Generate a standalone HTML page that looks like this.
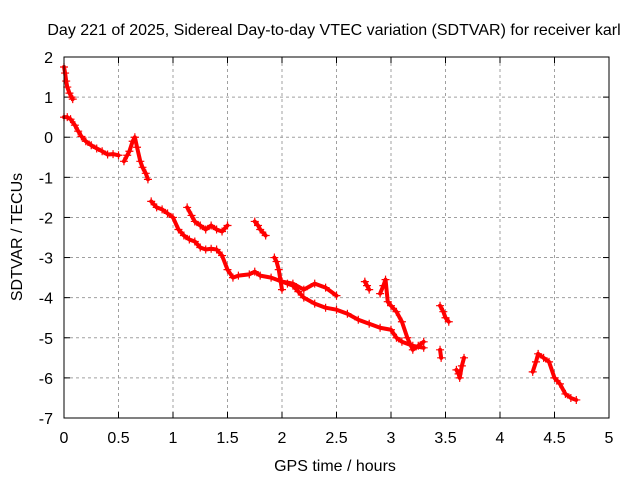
<!DOCTYPE html>
<html><head><meta charset="utf-8"><style>
html,body{margin:0;padding:0;background:#fff}
svg{display:block;font-family:"Liberation Sans",sans-serif}
</style></head><body>
<svg id="chart" width="640" height="480" xmlns="http://www.w3.org/2000/svg">
<text x="334" y="35" font-size="16" text-anchor="middle">Day 221 of 2025, Sidereal Day-to-day VTEC variation (SDTVAR) for receiver karl</text>
<g id="grid"></g>
<g id="ticks"></g>
<g id="marks"></g>
<rect x="64" y="57" width="545" height="361" fill="none" stroke="#000" stroke-width="1"/>
<text x="335" y="471" font-size="16" text-anchor="middle">GPS time / hours</text>
<text transform="translate(22,237) rotate(-90)" font-size="16" text-anchor="middle">SDTVAR / TECUs</text>
</svg>
<script>
const xTicks=[0,0.5,1,1.5,2,2.5,3,3.5,4,4.5,5];
const xTickLabels=["0","0.5","1","1.5","2","2.5","3","3.5","4","4.5","5"];
const yTicks=[2,1,0,-1,-2,-3,-4,-5,-6,-7];
const yTickLabels=["2","1","0","-1","-2","-3","-4","-5","-6","-7"];
const seg1=[[0,1.75],[0.01,1.6],[0.02,1.4],[0.03,1.25],[0.05,1.1],[0.07,1.0],[0.08,0.95]];
const seg2=[[0,0.5],[0.03,0.5],[0.06,0.45],[0.1,0.3],[0.13,0.15],[0.16,0.02],[0.2,-0.1],[0.25,-0.2],[0.3,-0.28],[0.35,-0.35],[0.4,-0.43],[0.45,-0.42],[0.5,-0.45]];
const seg3=[[0.55,-0.6],[0.58,-0.45],[0.6,-0.35],[0.63,-0.1],[0.65,0],[0.67,-0.25],[0.7,-0.6],[0.72,-0.75],[0.75,-0.9],[0.77,-1.05]];
const seg4=[[0.8,-1.6],[0.85,-1.75],[0.9,-1.8],[0.95,-1.9],[1.0,-2.0],[1.05,-2.3],[1.1,-2.45],[1.15,-2.55],[1.2,-2.6],[1.25,-2.75],[1.3,-2.8],[1.35,-2.78],[1.4,-2.8],[1.45,-2.95],[1.5,-3.3],[1.55,-3.5],[1.6,-3.45],[1.7,-3.42],[1.75,-3.35],[1.8,-3.45],[1.9,-3.5],[2.0,-3.6],[2.05,-3.65],[2.1,-3.7],[2.15,-3.85],[2.2,-4.0],[2.3,-4.15],[2.4,-4.25],[2.5,-4.3],[2.6,-4.4],[2.7,-4.55],[2.8,-4.65],[2.9,-4.75],[3.0,-4.8],[3.05,-5.0],[3.1,-5.1],[3.2,-5.2],[3.3,-5.25]];
const seg5=[[1.13,-1.75],[1.17,-1.95],[1.2,-2.1],[1.25,-2.2],[1.3,-2.3],[1.35,-2.2],[1.4,-2.3],[1.45,-2.35],[1.5,-2.2]];
const seg6=[[1.75,-2.1],[1.78,-2.2],[1.8,-2.3],[1.85,-2.45]];
const seg7=[[1.93,-3.0],[1.95,-3.1],[1.97,-3.3],[2.0,-3.8]];
const seg8=[[2.0,-3.6],[2.1,-3.65],[2.2,-3.8],[2.3,-3.65],[2.4,-3.75],[2.5,-3.95]];
const seg9=[[2.76,-3.6],[2.78,-3.7],[2.8,-3.8]];
const seg10=[[2.9,-3.9],[2.93,-3.7],[2.95,-3.55],[2.97,-4.1],[3.0,-4.2],[3.05,-4.35],[3.1,-4.6],[3.15,-5.0],[3.2,-5.3],[3.25,-5.2],[3.3,-5.1]];
const seg11=[[3.45,-5.3],[3.46,-5.5]];
const seg12=[[3.45,-4.2],[3.48,-4.35],[3.5,-4.5],[3.53,-4.6]];
const seg13=[[3.6,-5.8],[3.62,-5.9],[3.63,-6.0],[3.65,-5.7],[3.67,-5.5]];
const seg14=[[4.3,-5.85],[4.33,-5.6],[4.35,-5.4],[4.4,-5.5],[4.45,-5.6],[4.5,-6.0],[4.55,-6.15],[4.6,-6.4],[4.65,-6.5],[4.7,-6.55]];
const segments=[seg1,seg2,seg3,seg4,seg5,seg6,seg7,seg8,seg9,seg10,seg11,seg12,seg13,seg14];

const X0=64,X1=609,Y0=57,Y1=418;
function xs(v){return X0+(v-0)/(5-0)*(X1-X0);}
function ys(v){return Y0+(2-v)/(2-(-7))*(Y1-Y0);}
const NS="http://www.w3.org/2000/svg";
const grid=document.getElementById('grid'),ticks=document.getElementById('ticks'),marks=document.getElementById('marks');
function mk(tag,attrs,parent){const e=document.createElementNS(NS,tag);for(const k in attrs)e.setAttribute(k,attrs[k]);parent.appendChild(e);return e;}
xTicks.forEach((t,i)=>{
  const x=xs(t);
  if(i>0&&i<xTicks.length-1){
    const g=mk('line',{x1:x,x2:x,y1:Y0,y2:Y1,stroke:'#a0a0a0','stroke-dasharray':'3,3'},grid);
    
    
  }
  mk('line',{x1:x,x2:x,y1:Y1,y2:Y1-6,stroke:'#000'},ticks);
  mk('line',{x1:x,x2:x,y1:Y0,y2:Y0+6,stroke:'#000'},ticks);
  const l=mk('text',{x:x,y:Y1+25,'font-size':16,'text-anchor':'middle'},ticks);
  l.textContent=xTickLabels[i];
  
  
});
yTicks.forEach((t,i)=>{
  const y=ys(t);
  if(i>0&&i<yTicks.length-1){
    const g=mk('line',{x1:X0,x2:X1,y1:y,y2:y,stroke:'#a0a0a0','stroke-dasharray':'3,3'},grid);
    
    
  }
  mk('line',{x1:X0,x2:X0+6,y1:y,y2:y,stroke:'#000'},ticks);
  mk('line',{x1:X1,x2:X1-6,y1:y,y2:y,stroke:'#000'},ticks);
  const l=mk('text',{x:X0-11,y:y+6,'font-size':16,'text-anchor':'end'},ticks);
  l.textContent=yTickLabels[i];
  
  
});
segments.forEach(seg=>{
  const pts=seg.map(p=>xs(p[0])+','+ys(p[1])).join(' ');
  const pl=mk('polyline',{points:pts,fill:'none',stroke:'#ff0000','stroke-width':4,'stroke-linejoin':'round','stroke-linecap':'round'},marks);
  
  
  seg.forEach(p=>{
    const x=xs(p[0]),y=ys(p[1]);
    const c=mk('path',{d:`M${x-4},${y}H${x+4}M${x},${y-4}V${y+4}`,stroke:'#ff0000','stroke-width':1.2},marks);
    
    
  });
});
</script>
</body></html>
